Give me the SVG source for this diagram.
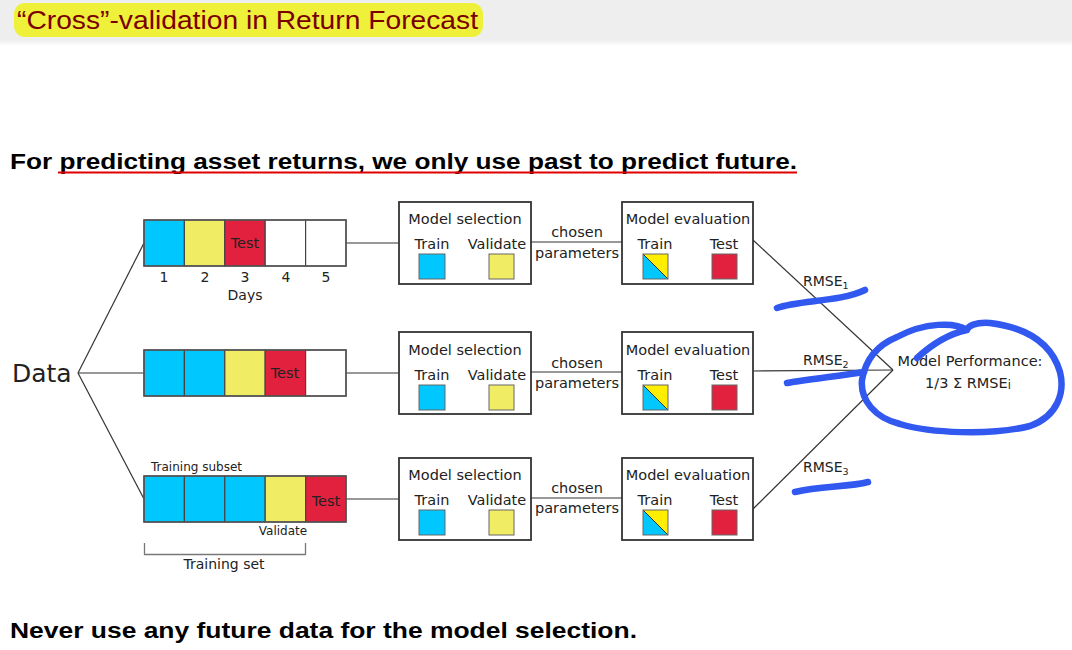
<svg xmlns="http://www.w3.org/2000/svg" width="1072" height="650" viewBox="0 0 1072 650">
  <defs>
    <linearGradient id="hdrShade" x1="0" y1="0" x2="0" y2="1">
      <stop offset="0" stop-color="#eeeeee"/>
      <stop offset="1" stop-color="#ffffff"/>
    </linearGradient>
    <style>
      .dg { font-family: "DejaVu Sans", "Liberation Sans", sans-serif; fill: #222; }
      .c { text-anchor: middle; }
      .frame { fill: none; stroke: #555; stroke-width: 1.5; }
      .cell { stroke: #444; stroke-width: 1.2; }
      .cyan { fill: #00c8ff; }
      .yel { fill: #f0ec64; }
      .red { fill: #e2213f; }
      .wht { fill: #ffffff; }
      .box { fill: #fff; stroke: #333; stroke-width: 1.8; }
      .sq { stroke: #666; stroke-width: 1; }
      .wire { stroke: #333; stroke-width: 1.2; fill: none; }
      .ink { stroke: #3158ef; stroke-width: 6.5; fill: none; stroke-linecap: round; stroke-linejoin: round; }
      .bold { font-family: "Liberation Sans", "DejaVu Sans", sans-serif; font-weight: bold; font-size: 22px; fill: #000; }
    </style>
  </defs>

  <rect width="1072" height="650" fill="#ffffff"/>

  <!-- slide header -->
  <g id="header">
    <rect x="0" y="0" width="1072" height="40" fill="#eeeeee"/>
    <rect x="0" y="40" width="1072" height="6" fill="url(#hdrShade)"/>
    <rect x="14" y="3" width="469" height="34" rx="11" fill="#eef03a"/>
    <text x="17" y="29" font-family="Liberation Sans, DejaVu Sans, sans-serif" font-size="26" fill="#7a0000" textLength="461" lengthAdjust="spacingAndGlyphs">“Cross”-validation in Return Forecast</text>
  </g>

  <g id="headline">
    <text class="bold" x="10" y="169" textLength="787" lengthAdjust="spacingAndGlyphs">For predicting asset returns, we only use past to predict future.</text>
    <line x1="58" y1="172.5" x2="797" y2="172.5" stroke="#e00000" stroke-width="2"/>
  </g>

  <g id="footer">
    <text class="bold" x="10" y="638" textLength="627" lengthAdjust="spacingAndGlyphs">Never use any future data for the model selection.</text>
  </g>

  <!-- connectors -->
  <g id="connectors" class="wire">
    <line x1="78" y1="373" x2="144" y2="243"/>
    <line x1="78" y1="373" x2="144" y2="373"/>
    <line x1="78" y1="373" x2="144" y2="499"/>
    <line x1="346" y1="243" x2="399" y2="243"/>
    <line x1="346" y1="373" x2="399" y2="373"/>
    <line x1="346" y1="499" x2="399" y2="499"/>
    <line x1="531" y1="242" x2="622" y2="242"/>
    <line x1="531" y1="372" x2="622" y2="372"/>
    <line x1="531" y1="498" x2="622" y2="498"/>
    <line x1="753" y1="240" x2="893" y2="370"/>
    <line x1="753" y1="371" x2="893" y2="370"/>
    <line x1="753" y1="509" x2="893" y2="370"/>
  </g>

  <g id="data">
    <text class="dg" x="12" y="382" font-size="25">Data</text>
  </g>

  <!-- split 1 -->
  <g id="split1">
    <rect class="cell cyan" x="144" y="220" width="40.4" height="46"/>
    <rect class="cell yel" x="184.4" y="220" width="40.4" height="46"/>
    <rect class="cell red" x="224.8" y="220" width="40.4" height="46"/>
    <rect class="cell wht" x="265.2" y="220" width="40.4" height="46"/>
    <rect class="cell wht" x="305.6" y="220" width="40.4" height="46"/>
    <rect class="frame" x="144" y="220" width="202" height="46"/>
    <text class="dg c" x="245" y="248" font-size="14.5">Test</text>
    <g class="dg c" font-size="14">
      <text x="164" y="282">1</text>
      <text x="205" y="282">2</text>
      <text x="245" y="282">3</text>
      <text x="286" y="282">4</text>
      <text x="326" y="282">5</text>
    </g>
    <text class="dg c" x="245" y="300" font-size="14">Days</text>
  </g>

  <!-- split 2 -->
  <g id="split2">
    <rect class="cell cyan" x="144" y="350" width="40.4" height="46"/>
    <rect class="cell cyan" x="184.4" y="350" width="40.4" height="46"/>
    <rect class="cell yel" x="224.8" y="350" width="40.4" height="46"/>
    <rect class="cell red" x="265.2" y="350" width="40.4" height="46"/>
    <rect class="cell wht" x="305.6" y="350" width="40.4" height="46"/>
    <rect class="frame" x="144" y="350" width="202" height="46"/>
    <text class="dg c" x="285" y="378" font-size="14.5">Test</text>
  </g>

  <!-- split 3 -->
  <g id="split3">
    <rect class="cell cyan" x="144" y="476" width="40.4" height="46"/>
    <rect class="cell cyan" x="184.4" y="476" width="40.4" height="46"/>
    <rect class="cell cyan" x="224.8" y="476" width="40.4" height="46"/>
    <rect class="cell yel" x="265.2" y="476" width="40.4" height="46"/>
    <rect class="cell red" x="305.6" y="476" width="40.4" height="46"/>
    <rect class="frame" x="144" y="476" width="202" height="46"/>
    <text class="dg c" x="326" y="506" font-size="14.5">Test</text>
    <text class="dg" x="151" y="471" font-size="12">Training subset</text>
    <text class="dg c" x="283" y="535" font-size="12">Validate</text>
    <path d="M144.5,543 V554.5 H305.5 V543" fill="none" stroke="#777" stroke-width="1.3"/>
    <text class="dg c" x="224" y="569" font-size="14">Training set</text>
  </g>

  <!-- model selection / evaluation, row 1 -->
  <g id="select1">
    <rect class="box" x="399" y="202" width="132" height="82"/>
    <text class="dg c" x="465" y="224" font-size="14.5">Model selection</text>
    <text class="dg c" x="432" y="249" font-size="14.5">Train</text>
    <text class="dg c" x="497" y="249" font-size="14.5">Validate</text>
    <rect class="sq cyan" x="419" y="254" width="26" height="25"/>
    <rect class="sq yel" x="489" y="254" width="25" height="25"/>
  </g>
  <g id="params1">
    <text class="dg c" x="577" y="237" font-size="14.5">chosen</text>
    <text class="dg c" x="577" y="258" font-size="14.5">parameters</text>
  </g>
  <g id="eval1">
    <rect class="box" x="622" y="202" width="131" height="82"/>
    <text class="dg c" x="688" y="224" font-size="14.5">Model evaluation</text>
    <text class="dg c" x="655" y="249" font-size="14.5">Train</text>
    <text class="dg c" x="724" y="249" font-size="14.5">Test</text>
    <polygon points="643,254 668,279 643,279" fill="#00c8ff"/>
    <polygon points="643,254 668,254 668,279" fill="#ffee00"/>
    <line x1="643" y1="254" x2="668" y2="279" stroke="#333" stroke-width="1"/>
    <rect x="643" y="254" width="25" height="25" fill="none" stroke="#666" stroke-width="1"/>
    <rect class="sq red" x="712" y="254" width="25" height="25"/>
  </g>

  <!-- row 2 -->
  <g id="select2">
    <rect class="box" x="399" y="332" width="132" height="82"/>
    <text class="dg c" x="465" y="355" font-size="14.5">Model selection</text>
    <text class="dg c" x="432" y="380" font-size="14.5">Train</text>
    <text class="dg c" x="497" y="380" font-size="14.5">Validate</text>
    <rect class="sq cyan" x="419" y="385" width="26" height="25"/>
    <rect class="sq yel" x="489" y="385" width="25" height="25"/>
  </g>
  <g id="params2">
    <text class="dg c" x="577" y="368" font-size="14.5">chosen</text>
    <text class="dg c" x="577" y="388" font-size="14.5">parameters</text>
  </g>
  <g id="eval2">
    <rect class="box" x="622" y="332" width="131" height="82"/>
    <text class="dg c" x="688" y="355" font-size="14.5">Model evaluation</text>
    <text class="dg c" x="655" y="380" font-size="14.5">Train</text>
    <text class="dg c" x="724" y="380" font-size="14.5">Test</text>
    <polygon points="643,385 668,410 643,410" fill="#00c8ff"/>
    <polygon points="643,385 668,385 668,410" fill="#ffee00"/>
    <line x1="643" y1="385" x2="668" y2="410" stroke="#333" stroke-width="1"/>
    <rect x="643" y="385" width="25" height="25" fill="none" stroke="#666" stroke-width="1"/>
    <rect class="sq red" x="712" y="385" width="25" height="25"/>
  </g>

  <!-- row 3 -->
  <g id="select3">
    <rect class="box" x="399" y="458" width="132" height="82"/>
    <text class="dg c" x="465" y="480" font-size="14.5">Model selection</text>
    <text class="dg c" x="432" y="505" font-size="14.5">Train</text>
    <text class="dg c" x="497" y="505" font-size="14.5">Validate</text>
    <rect class="sq cyan" x="419" y="510" width="26" height="25"/>
    <rect class="sq yel" x="489" y="510" width="25" height="25"/>
  </g>
  <g id="params3">
    <text class="dg c" x="577" y="493" font-size="14.5">chosen</text>
    <text class="dg c" x="577" y="513" font-size="14.5">parameters</text>
  </g>
  <g id="eval3">
    <rect class="box" x="622" y="458" width="131" height="82"/>
    <text class="dg c" x="688" y="480" font-size="14.5">Model evaluation</text>
    <text class="dg c" x="655" y="505" font-size="14.5">Train</text>
    <text class="dg c" x="724" y="505" font-size="14.5">Test</text>
    <polygon points="643,510 668,535 643,535" fill="#00c8ff"/>
    <polygon points="643,510 668,510 668,535" fill="#ffee00"/>
    <line x1="643" y1="510" x2="668" y2="535" stroke="#333" stroke-width="1"/>
    <rect x="643" y="510" width="25" height="25" fill="none" stroke="#666" stroke-width="1"/>
    <rect class="sq red" x="712" y="510" width="25" height="25"/>
  </g>

  <!-- error labels -->
  <g id="rmse" class="dg" font-size="14">
    <text x="803" y="286">RMSE<tspan font-size="9.5" dy="3">1</tspan></text>
    <text x="803" y="365">RMSE<tspan font-size="9.5" dy="3">2</tspan></text>
    <text x="803" y="472">RMSE<tspan font-size="9.5" dy="3">3</tspan></text>
  </g>

  <g id="performance">
    <text class="dg c" x="970" y="366" font-size="14.5">Model Performance:</text>
    <text class="dg c" x="968" y="388" font-size="14.5">1/3 Σ RMSE<tspan font-size="11.5" dy="1">i</tspan></text>
  </g>

  <!-- pen annotations -->
  <g id="annotations" class="ink">
    <path d="M777,308 C800,300 840,302 865,290"/>
    <path d="M787,383 C810,379 840,376 864,372"/>
    <path d="M795,492 C820,486 850,487 868,482"/>
    <path d="M917,358 C930,346 948,334 967,330 C955,322 925,322 897,337 C880,344 866,356 862,380 C860,400 875,418 900,424 C930,433 990,436 1030,426 C1058,416 1065,392 1060,372 C1052,345 1030,328 990,323 C975,322 968,326 967,330"/>
  </g>
</svg>
